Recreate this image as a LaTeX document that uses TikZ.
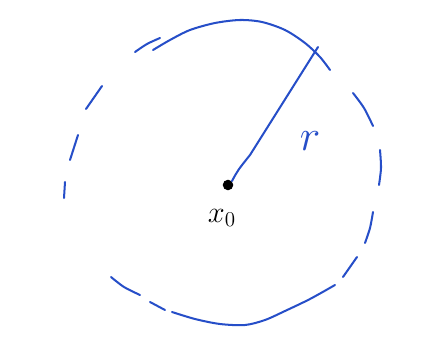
\documentclass[tikz,border=0pt]{standalone}
\usepackage{amsmath,amssymb}
\usepackage{xcolor}
\usetikzlibrary{arrows.meta,positioning,calc}
\definecolor{penblue}{RGB}{38,78,200}

\begin{document}
\begin{tikzpicture}[x=0.02cm,y=-0.02cm,line cap=round,line join=round,
    pen/.style={penblue,line width=1.15pt},
    dot/.style={circle,fill=black,inner sep=0pt,minimum size=6pt}]
  \useasboundingbox (0,0) rectangle (436,351);

  % broken circle, drawn by hand
  \draw[pen] plot[smooth] coordinates {(153,50) (170,40) (190,30) (215,23) (240,20) (262,22) (285,30) (305,43) (320,57) (330,70)};
  \draw[pen] plot[smooth] coordinates {(135,52) (147,44) (160,38)};
  \draw[pen] (102,86) -- (86,109);
  \draw[pen] (78,135) -- (70,160);
  \draw[pen] (65,182) -- (64,198);
  \draw[pen] plot[smooth] coordinates {(111,277) (124,287) (140,295)};
  \draw[pen] (150,302) -- (165,310);
  \draw[pen] plot[smooth] coordinates {(172,312) (195,319) (220,324) (245,325) (265,320) (285,311) (310,299) (335,285)};
  \draw[pen] (343,277) -- (357,257);
  \draw[pen] plot[smooth] coordinates {(365,243) (370,228) (373,212)};
  \draw[pen] plot[smooth] coordinates {(380,150) (381,168) (379,185)};
  \draw[pen] plot[smooth] coordinates {(353,93) (364,108) (373,126)};

  % centre and radius
  \node[dot] (ctr) at (228,185) {};
  \coordinate (rtip) at (318,47);
  \draw[pen] (ctr.north east) .. controls (238,170) .. (250,155) -- (rtip);

  \node[text=penblue,font=\Huge] (rlab) at (310,141) {$r$};
  \node[font=\LARGE] (xlab) at (222,218) {$x_0$};
\end{tikzpicture}
\end{document}
